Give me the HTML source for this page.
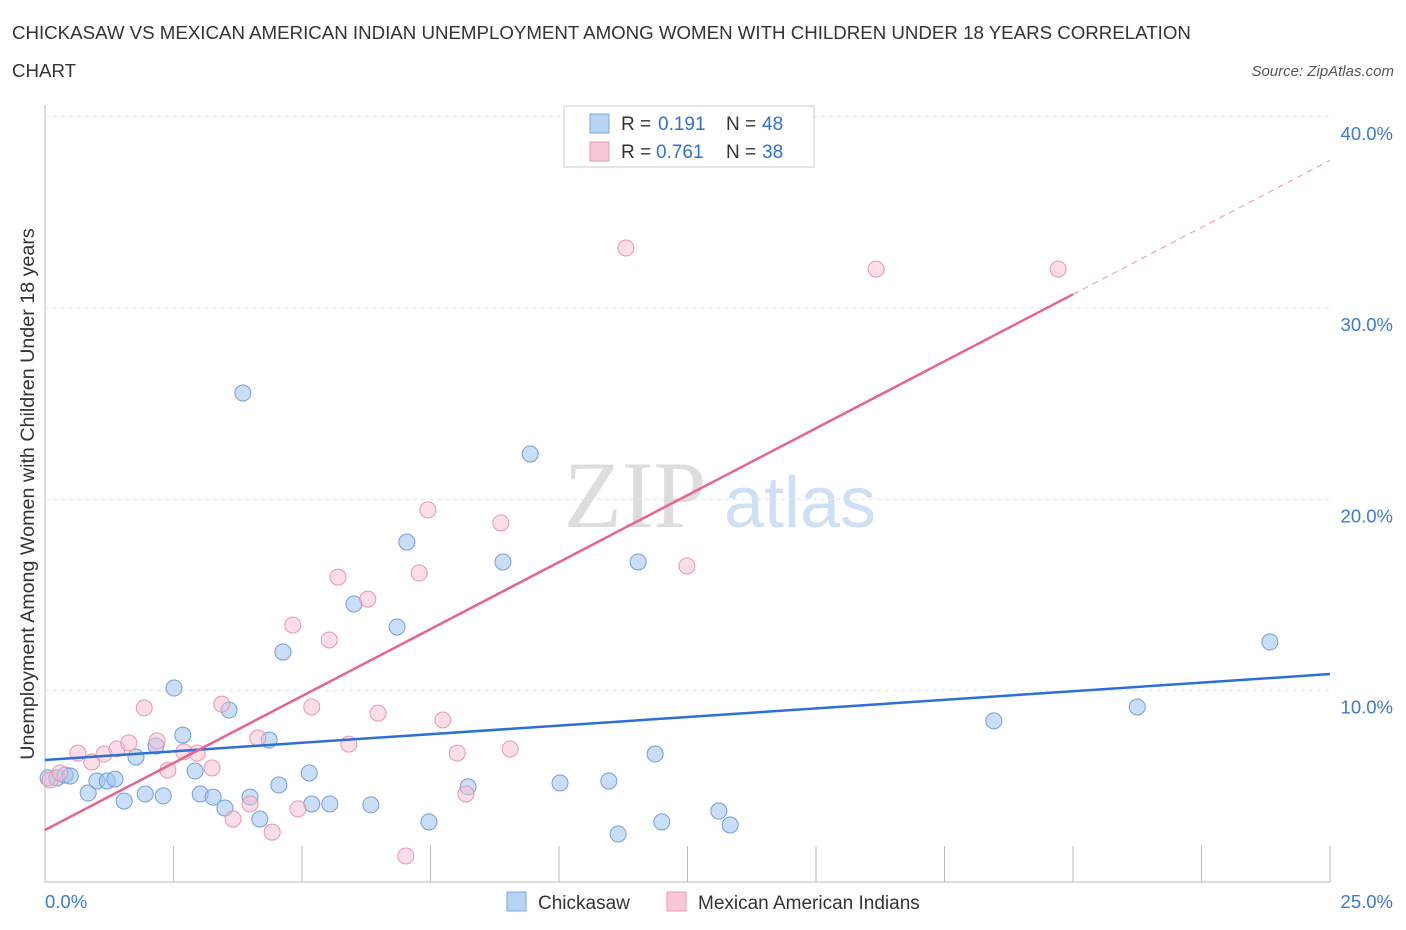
<!DOCTYPE html>
<html><head><meta charset="utf-8"><style>
body{margin:0;background:#fff;font-family:"Liberation Sans",sans-serif}
svg{display:block}
</style></head><body>
<svg id="c" width="1406" height="930">
<text x="12" y="39" font-size="18.7" fill="#333">CHICKASAW VS MEXICAN AMERICAN INDIAN UNEMPLOYMENT AMONG WOMEN WITH CHILDREN UNDER 18 YEARS CORRELATION</text>
<text x="12" y="77" font-size="18.7" fill="#333">CHART</text>
<text x="1394" y="76" font-size="15" font-style="italic" fill="#555" text-anchor="end">Source: ZipAtlas.com</text>
<text x="635" y="527" font-size="95" font-family="Liberation Serif,serif" fill="#ddd" text-anchor="middle">ZIP</text>
<text x="800" y="527" font-size="72" fill="#cfe0f5" text-anchor="middle">atlas</text>
<text transform="translate(34,494) rotate(-90)" font-size="19.7" fill="#333" text-anchor="middle">Unemployment Among Women with Children Under 18 years</text>
<g id="grid"></g><g id="marks"></g>
<g>
<rect x="564" y="106" width="250" height="61" fill="#fff" stroke="#ccc"/>
<rect x="590" y="114" width="19" height="19" fill="#b9d3f5" stroke="#7aa7e0"/>
<rect x="590" y="142" width="19" height="19" fill="#f9c8d6" stroke="#eb9ab1"/>
<text x="621" y="130" font-size="19" fill="#333">R =</text><text x="658" y="130" font-size="19" fill="#2f6fd6">0.191</text>
<text x="726" y="130" font-size="19" fill="#333">N =</text><text x="762" y="130" font-size="19" fill="#2f6fd6">48</text>
<text x="621" y="158" font-size="19" fill="#333">R =</text><text x="656" y="158" font-size="19" fill="#2f6fd6">0.761</text>
<text x="726" y="158" font-size="19" fill="#333">N =</text><text x="762" y="158" font-size="19" fill="#2f6fd6">38</text>
</g>
<g>
<rect x="507" y="892" width="19" height="19" fill="#b9d3f5" stroke="#7aa7e0"/>
<text x="538" y="909" font-size="19" fill="#333">Chickasaw</text>
<rect x="667" y="892" width="19" height="19" fill="#f9c8d6" stroke="#eb9ab1"/>
<text x="698" y="909" font-size="19" fill="#333">Mexican American Indians</text>
</g>
</svg>
<script>
const xTicks=[0,2.5,5,7.5,10,12.5,15,17.5,20,22.5,25];
const yTicks=[10,20,30,40];
const blueX=[0.06,0.23,0.39,0.49,0.84,1.01,1.21,1.36,1.54,1.77,1.95,2.16,2.30,2.51,2.68,2.92,3.02,3.27,3.50,3.58,3.85,3.99,4.18,4.36,4.55,4.63,5.14,5.19,5.54,6.01,6.34,6.85,7.04,7.47,8.23,8.91,9.44,10.02,10.97,11.15,11.54,11.87,12.00,13.11,13.33,18.46,21.25,23.83];
const blueY=[5.44,5.44,5.59,5.54,4.65,5.28,5.28,5.38,4.23,6.53,4.60,7.11,4.50,10.14,7.68,5.80,4.60,4.44,3.87,8.99,25.56,4.44,3.29,7.42,5.07,12.02,5.70,4.08,4.08,14.53,4.03,13.33,17.77,3.14,4.97,16.73,22.37,5.18,5.28,2.51,16.73,6.69,3.14,3.71,2.98,8.42,9.15,12.55];
const pinkX=[0.10,0.29,0.64,0.91,1.15,1.40,1.63,1.93,2.18,2.39,2.70,2.96,3.25,3.44,3.66,3.99,4.14,4.42,4.82,4.92,5.19,5.53,5.70,5.91,6.28,6.48,7.02,7.28,7.45,7.74,8.02,8.19,8.87,9.05,11.30,12.49,16.17,19.71];
const pinkY=[5.33,5.70,6.74,6.27,6.69,6.95,7.27,9.10,7.37,5.85,6.80,6.74,5.96,9.30,3.29,4.08,7.53,2.61,13.43,3.82,9.15,12.65,15.94,7.21,14.79,8.83,1.36,16.15,19.45,8.47,6.74,4.60,18.77,6.95,33.14,16.52,32.04,32.04];
const blueTrend=[6.38,10.87];
const pinkTrend=[2.72,1.40];
const X=v=>45+v*51.4, Y=v=>882-v*19.13;
const NS="http://www.w3.org/2000/svg";
function mk(t,a,p){const e=document.createElementNS(NS,t);for(const k in a)e.setAttribute(k,a[k]);p.appendChild(e);return e;}
const g=document.getElementById('grid'),m=document.getElementById('marks');
const ax=mk('line',{x1:45,y1:105,x2:45,y2:882,stroke:'#bbb'},g);


const bx=mk('line',{x1:45,y1:882,x2:1330,y2:882,stroke:'#bbb'},g);


yTicks.forEach(v=>{const l=mk('line',{x1:45,y1:Y(v),x2:1330,y2:Y(v),stroke:'#e3e3e3','stroke-dasharray':'4,4'},g);


const t=mk('text',{x:1393,y:Y(v)+23,'font-size':18.5,fill:'#3a78d8','text-anchor':'end'},g);t.textContent=v.toFixed(1)+'%';

});
xTicks.forEach(v=>{const l=mk('line',{x1:X(v),y1:846,x2:X(v),y2:882,stroke:'#bbb'},g);

});
[[0,'0.0%','start',45],[25,'25.0%','end',1393]].forEach(a=>{const t=mk('text',{x:a[3],y:908,'font-size':18.5,fill:'#3a78d8','text-anchor':a[2]},g);t.textContent=a[1];

});
blueX.forEach((x,i)=>{const c=mk('circle',{cx:X(x),cy:Y(blueY[i]),r:8,fill:'rgba(160,195,240,0.55)',stroke:'#6f9fdc','stroke-width':1},m);

});
pinkX.forEach((x,i)=>{const c=mk('circle',{cx:X(x),cy:Y(pinkY[i]),r:8,fill:'rgba(248,190,208,0.5)',stroke:'#e996ae','stroke-width':1},m);

});
const bl=mk('line',{x1:X(0),y1:Y(blueTrend[0]),x2:X(25),y2:Y(blueTrend[1]),stroke:'#2c6fd6','stroke-width':2.5},m);


const pl=mk('line',{x1:X(0),y1:Y(pinkTrend[0]),x2:X(20),y2:Y(pinkTrend[0]+pinkTrend[1]*20),stroke:'#e8638f','stroke-width':2.5},m);


const pd=mk('line',{x1:X(20),y1:Y(pinkTrend[0]+pinkTrend[1]*20),x2:X(25),y2:Y(pinkTrend[0]+pinkTrend[1]*25),stroke:'#eea0b8','stroke-width':1.2,'stroke-dasharray':'6,5'},m);


</script>
</body></html>
